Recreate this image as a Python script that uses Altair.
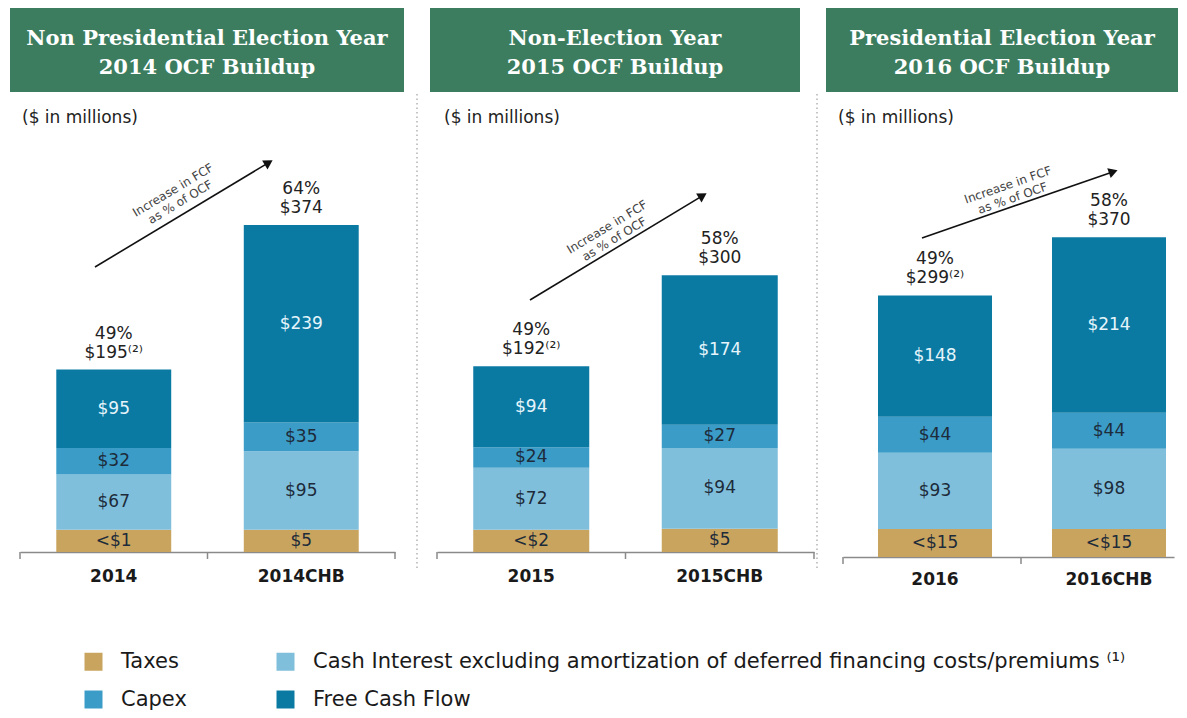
import math
import altair as alt
import pandas as pd

# ---------------- data ----------------
categories = ["2014", "2014CHB", "2015", "2015CHB", "2016", "2016CHB"]
panel_of = [0, 0, 1, 1, 2, 2]
series_names = [
    "Taxes",
    "Cash Interest excluding amortization  of deferred financing costs/premiums  \u207d\u00b9\u207e",
    "Capex",
    "Free Cash Flow",
]
# taxes segments are drawn at this (visual) height in the picture; their real values are in the labels
taxes_drawn = [27, 27, 26, 27, 34, 34]
taxes_labels = ["<$1", "$5", "<$2", "$5", "<$15", "<$15"]
cash_interest = [67, 95, 72, 94, 93, 98]
capex = [32, 35, 24, 27, 44, 44]
free_cash_flow = [95, 239, 94, 174, 148, 214]
total_labels = ["$195\u207d\u00b2\u207e", "$374", "$192\u207d\u00b2\u207e", "$300", "$299\u207d\u00b2\u207e", "$370"]
fcf_pct = ["49%", "64%", "49%", "58%", "49%", "58%"]
header_line1 = ["Non Presidential Election Year", "Non-Election Year", "Presidential Election Year"]
header_line2 = ["2014 OCF Buildup", "2015 OCF Buildup", "2016 OCF Buildup"]
note_text = "($ in millions)"
arrow_text = "Increase in FCF\nas % of OCF"

colors = ["#c9a45e", "#80bfdb", "#3b9cc8", "#0b7aa3"]
GREEN = "#3b7d5e"
DARK = "#1d2b3a"
LIGHT = "#e6f5fb"
FONT = "DejaVu Sans"

# ---------------- tables ----------------
rows = []
tot_rows = []
for i, cat in enumerate(categories):
    vals = [taxes_drawn[i], cash_interest[i], capex[i], free_cash_flow[i]]
    labs = [taxes_labels[i]] + ["$" + str(v) for v in vals[1:]]
    base = 0
    for k in range(4):
        rows.append(dict(panel=panel_of[i], cat=cat, series=series_names[k], order=k,
                         y0=base, y1=base + vals[k], mid=base + vals[k] / 2, label=labs[k]))
        base += vals[k]
    tot_rows.append(dict(panel=panel_of[i], cat=cat, top=base, text=fcf_pct[i] + "\n" + total_labels[i]))
seg = pd.DataFrame(rows)
tot = pd.DataFrame(tot_rows)
one = pd.DataFrame({"a": [0]})

# ---------------- layout of the three panels ----------------
PANELS = [
    dict(width=412, height=544, xrange=[12, 387], pin=0.387, pout=0.1935, align=0.5, ymax=659,
         header=(2, 396), note_x=14, sep=409, ticks=[12, 199.5, 387], lpad=16,
         arrow=((87, 259), (265, 152)), atext=(165, 182)),
    dict(width=404, height=544, xrange=[17, 394], pin=0.3846, pout=0.1923, align=0.5, ymax=633,
         header=(10, 380), note_x=24, sep=397, ticks=[17, 205.5, 394], lpad=16,
         arrow=((110, 292), (287, 185)), atext=(187, 219)),
    dict(width=352, height=549, xrange=[19, 350], pin=0.3448, pout=0.1236, align=0.814, ymax=669.5,
         header=(2, 354), note_x=14, sep=None, ticks=[19, 197], lpad=14,
         arrow=((98, 230), (294, 162)), atext=(184, 177)),
]


def panel_chart(p):
    cfg = PANELS[p]
    H = cfg["height"]
    cats = [c for c, q in zip(categories, panel_of) if q == p]
    s = seg[seg.panel == p]
    t = tot[tot.panel == p]

    xscale = alt.Scale(domain=cats, range=cfg["xrange"], paddingInner=cfg["pin"],
                       paddingOuter=cfg["pout"], align=cfg["align"])
    yscale = alt.Scale(domain=[0, cfg["ymax"]], nice=False, zero=True)
    xaxis = alt.Axis(title=None, labelAngle=0, labelFont=FONT, labelFontWeight="bold",
                     labelFontSize=17, labelColor="#1a1a1a", domainColor="#8a8a8a", domainWidth=1.5,
                     ticks=False, labelPadding=cfg["lpad"], grid=False)
    if p == 0:
        legend = alt.Legend(title=None, orient="none", legendX=75, legendY=643, direction="horizontal",
                            columns=2, columnPadding=88, rowPadding=16, symbolType="square",
                            symbolSize=324, symbolStrokeWidth=0, symbolOpacity=1, labelFont=FONT,
                            labelFontSize=21, labelColor="#1a1a1a", labelLimit=1200, labelOffset=17,
                            padding=0, gridAlign="each")
    else:
        legend = None

    bars = alt.Chart(s).mark_bar(opacity=1).encode(
        x=alt.X("cat:N", scale=xscale, axis=xaxis, sort=cats),
        y=alt.Y("y1:Q", scale=yscale, axis=None),
        y2="y0:Q",
        color=alt.Color("series:N", scale=alt.Scale(domain=series_names, range=colors), legend=legend),
    )
    lab_dark = alt.Chart(s).transform_filter(alt.datum.order < 3).mark_text(
        font=FONT, fontSize=17, color=DARK, baseline="middle").encode(
        x=alt.X("cat:N", scale=xscale, sort=cats), y=alt.Y("mid:Q", scale=yscale), text="label:N")
    lab_light = alt.Chart(s).transform_filter(alt.datum.order == 3).mark_text(
        font=FONT, fontSize=17, color=LIGHT, baseline="middle").encode(
        x=alt.X("cat:N", scale=xscale, sort=cats), y=alt.Y("mid:Q", scale=yscale), text="label:N")
    totals = alt.Chart(t).mark_text(font=FONT, fontSize=17, color="#222222", baseline="bottom",
                                    lineBreak="\n", lineHeight=19, dy=-27).encode(
        x=alt.X("cat:N", scale=xscale, sort=cats), y=alt.Y("top:Q", scale=yscale), text="text:N")

    ticks = alt.Chart(pd.DataFrame({"tx": cfg["ticks"]})).mark_rule(color="#8a8a8a", strokeWidth=1.5).encode(
        x=alt.X("tx:Q", scale=None), y=alt.value(H), y2=alt.value(H + 7))

    hx0, hx1 = cfg["header"]
    header = alt.Chart(one).mark_rect(color=GREEN).encode(
        x=alt.value(hx0), x2=alt.value(hx1), y=alt.value(0), y2=alt.value(84))
    h1 = alt.Chart(one).mark_text(font="DejaVu Serif", fontWeight="bold", fontSize=21, color="white",
                                  baseline="middle").encode(
        x=alt.value((hx0 + hx1) / 2), y=alt.value(31), text=alt.value(header_line1[p]))
    h2 = alt.Chart(one).mark_text(font="DejaVu Serif", fontWeight="bold", fontSize=21, color="white",
                                  baseline="middle").encode(
        x=alt.value((hx0 + hx1) / 2), y=alt.value(60), text=alt.value(header_line2[p]))
    note = alt.Chart(one).mark_text(font=FONT, fontSize=17, color="#222222", align="left",
                                    baseline="middle").encode(
        x=alt.value(cfg["note_x"]), y=alt.value(110), text=alt.value(note_text))

    (ax0, ay0), (ax1, ay1) = cfg["arrow"]
    dx, dy = ax1 - ax0, ay1 - ay0
    L = math.hypot(dx, dy)
    cx, cy = ax1 - 5 * dx / L, ay1 - 5 * dy / L
    aline = alt.Chart(one).mark_rule(color="#111111", strokeWidth=1.6).encode(
        x=alt.value(ax0), y=alt.value(ay0), x2=alt.value(cx), y2=alt.value(cy))
    ahead = alt.Chart(one).mark_point(shape="triangle-up", filled=True, color="#111111", opacity=1,
                                      size=110, angle=math.degrees(math.atan2(dx, -dy))).encode(
        x=alt.value(cx), y=alt.value(cy))
    atxt = alt.Chart(one).mark_text(font=FONT, fontSize=12, color="#444444", lineBreak="\n",
                                    lineHeight=14, align="center", baseline="middle",
                                    angle=math.degrees(math.atan2(dy, dx)) % 360).encode(
        x=alt.value(cfg["atext"][0]), y=alt.value(cfg["atext"][1]), text=alt.value(arrow_text))

    layers = [header, h1, h2, note, aline, ahead, atxt, bars, ticks, lab_dark, lab_light, totals]
    if cfg["sep"] is not None:
        sep = alt.Chart(one).mark_rule(color="#a0a0a0", strokeWidth=1.2, strokeDash=[1.5, 3]).encode(
            x=alt.value(cfg["sep"]), y=alt.value(86), y2=alt.value(562))
        layers.insert(0, sep)
    return alt.layer(*layers).properties(width=cfg["width"], height=H,
                                         view=alt.ViewBackground(stroke="transparent", strokeOpacity=0))


chart = alt.hconcat(panel_chart(0), panel_chart(1), panel_chart(2), spacing=0, bounds="flush").resolve_scale(
    color="independent", x="independent", y="independent"
).properties(padding=0).configure_view(stroke="transparent", strokeOpacity=0).configure(background="white")

chart.save("out.html", embed_options={"renderer": "svg", "actions": False})
